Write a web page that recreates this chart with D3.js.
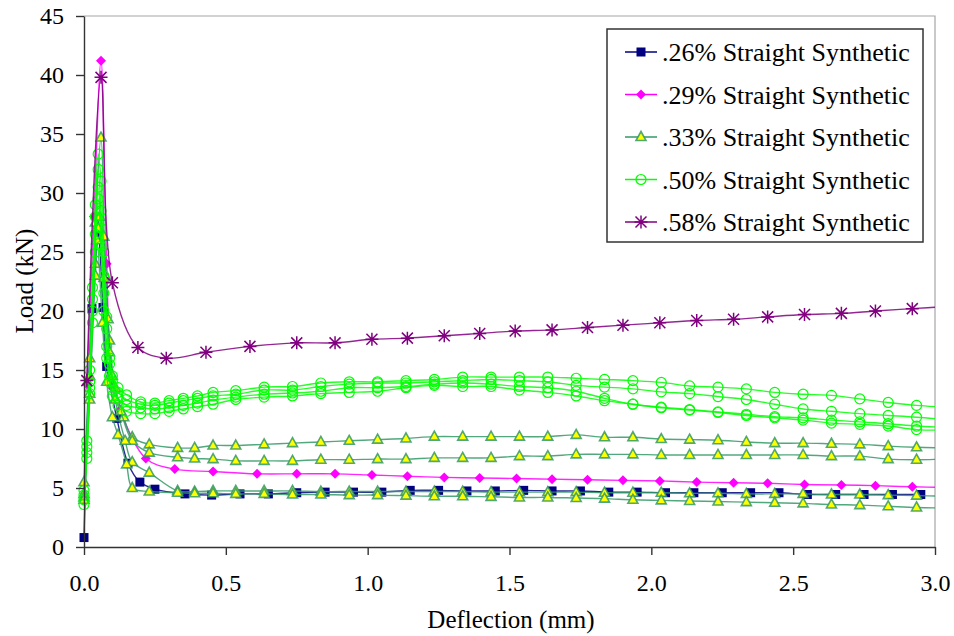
<!DOCTYPE html>
<html>
<head>
<meta charset="utf-8">
<script src="https://cdn.jsdelivr.net/npm/d3@7.9.0/dist/d3.min.js"></script>
<style>
  body { margin: 0; background: #fff; }
  svg { display: block; }
  svg text { font-family: "Liberation Serif", "Times New Roman", Times, "DejaVu Serif", serif !important; }
</style>
</head>
<body>
<svg id="chart" width="954" height="636"></svg>
<script>
// ---- data ----
const legendLabels = ['.26% Straight Synthetic', '.29% Straight Synthetic', '.33% Straight Synthetic',
  '.50% Straight Synthetic', '.58% Straight Synthetic'];
const xTicks = [0, 0.5, 1.0, 1.5, 2.0, 2.5, 3.0];
const yTicks = [0, 5, 10, 15, 20, 25, 30, 35, 40, 45];

// .26%
const x26 = [0, 0.028, 0.05, 0.067, 0.08, 0.116, 0.155, 0.197, 0.25, 0.356, 0.45, 0.55, 0.65, 0.75, 0.85, 0.95,
  1.05, 1.15, 1.25, 1.35, 1.45, 1.55, 1.65, 1.75, 1.85, 1.95, 2.05, 2.15, 2.25, 2.35, 2.45, 2.55, 2.65, 2.75, 2.85, 2.95];
const load26 = [0.8, 20.2, 26.4, 20.3, 15.3, 10.9, 7.1, 5.5, 4.9, 4.5, 4.4, 4.5, 4.5, 4.6, 4.65, 4.65, 4.65, 4.8, 4.8, 4.75,
  4.75, 4.8, 4.75, 4.75, 4.65, 4.65, 4.6, 4.6, 4.6, 4.6, 4.6, 4.45, 4.45, 4.45, 4.45, 4.45];

// .29%
const x29 = [0.01, 0.035, 0.06, 0.08, 0.1, 0.127, 0.218, 0.32, 0.455, 0.61, 0.75, 0.885, 1.015, 1.14, 1.27,
  1.395, 1.525, 1.65, 1.775, 1.9, 2.03, 2.16, 2.29, 2.41, 2.54, 2.67, 2.79, 2.92, 3.05];
const load29 = [13.8, 28, 41.2, 24, 13.5, 11.6, 7.5, 6.6, 6.4, 6.2, 6.2, 6.2, 6.1, 6.0, 5.9, 5.85, 5.8, 5.75, 5.7,
  5.65, 5.6, 5.5, 5.45, 5.4, 5.3, 5.25, 5.2, 5.1, 5.05];

// .58%
const x58 = [0.01, 0.06, 0.1, 0.19, 0.29, 0.43, 0.585, 0.75, 0.885, 1.015, 1.14, 1.27, 1.395, 1.52, 1.65, 1.775, 1.9,
  2.03, 2.16, 2.29, 2.41, 2.54, 2.67, 2.79, 2.92, 3.05];
const load58 = [14.1, 39.8, 22.4, 16.9, 16.0, 16.5, 17.0, 17.3, 17.3, 17.6, 17.7, 17.9, 18.1, 18.3, 18.4, 18.6, 18.8,
  19.0, 19.2, 19.3, 19.5, 19.7, 19.8, 20.0, 20.2, 20.4];

// shared deflections of the later readings (.33% and .50% specimens)
const xTail = [0.455, 0.535, 0.635, 0.735, 0.835, 0.935, 1.035, 1.135, 1.235, 1.335, 1.435, 1.535, 1.635, 1.735,
  1.835, 1.935, 2.035, 2.135, 2.235, 2.335, 2.435, 2.535, 2.635, 2.735, 2.835, 2.935, 3.035];

// .33% — four specimens
const x33a = [0.0, 0.02, 0.04, 0.06, 0.075, 0.09, 0.11, 0.14, 0.17, 0.23, 0.33, 0.39];
const load33a = [5.5, 16, 27.5, 34.7, 23, 17.5, 13.5, 11.0, 9.3, 8.7, 8.4, 8.4];
const tail33a = [8.6, 8.6, 8.7, 8.8, 8.9, 9.0, 9.1, 9.2, 9.35, 9.35, 9.35, 9.35, 9.35, 9.5, 9.3, 9.3, 9.15, 9.1, 9.05,
  8.9, 8.8, 8.8, 8.75, 8.7, 8.55, 8.45, 8.4];
const x33b = [0.0, 0.02, 0.04, 0.055, 0.07, 0.085, 0.1, 0.13, 0.17, 0.23, 0.33, 0.39];
const load33b = [4.5, 14.5, 24, 28.0, 26.3, 19.3, 14.5, 11.5, 9.0, 8.0, 7.6, 7.5];
const tail33b = [7.45, 7.3, 7.3, 7.3, 7.4, 7.4, 7.45, 7.45, 7.55, 7.55, 7.55, 7.7, 7.7, 7.85, 7.85, 7.85, 7.8, 7.8, 7.8,
  7.8, 7.8, 7.8, 7.7, 7.7, 7.45, 7.4, 7.45];
const x33c = [0.0, 0.02, 0.04, 0.05, 0.07, 0.09, 0.11, 0.145, 0.17, 0.23, 0.33, 0.39];
const load33c = [4.2, 13, 23, 27, 22.8, 16.5, 12.5, 9.0, 7.2, 6.3, 4.75, 4.7];
const tail33c = [4.75, 4.75, 4.75, 4.75, 4.7, 4.7, 4.7, 4.7, 4.7, 4.7, 4.65, 4.65, 4.65, 4.65, 4.6, 4.6, 4.6, 4.55,
  4.55, 4.5, 4.5, 4.5, 4.45, 4.45, 4.4, 4.35, 4.3];
const x33d = [0.0, 0.02, 0.045, 0.065, 0.08, 0.1, 0.12, 0.15, 0.17, 0.23, 0.33, 0.39];
const load33d = [4.0, 12.5, 26, 19, 14, 11, 9.5, 7.0, 5.0, 4.7, 4.6, 4.55];
const tail33d = [4.55, 4.5, 4.5, 4.45, 4.45, 4.4, 4.4, 4.35, 4.3, 4.3, 4.25, 4.2, 4.2, 4.15, 4.1, 4.0, 3.95, 3.9, 3.85,
  3.8, 3.75, 3.7, 3.6, 3.55, 3.45, 3.35, 3.3];

// .50% — four specimens
const x50 = [0.0, 0.01, 0.02, 0.03, 0.04, 0.05, 0.06, 0.07, 0.08, 0.09, 0.1, 0.12, 0.15, 0.2, 0.25, 0.3, 0.35, 0.4];
const load50a = [4.8, 9, 15, 22, 29, 33.3, 31, 25, 19.5, 16, 14.5, 13.5, 12.9, 12.3, 12.2, 12.4, 12.6, 12.8];
const tail50a = [13.1, 13.25, 13.55, 13.6, 13.9, 14.0, 14.0, 14.1, 14.2, 14.4, 14.4, 14.4, 14.4, 14.3, 14.2, 14.1,
  13.95, 13.65, 13.55, 13.4, 13.1, 12.95, 12.85, 12.55, 12.25, 12.0, 11.85];
const load50b = [4.4, 8.5, 14, 21, 28, 32.0, 28.5, 23, 18.5, 15.5, 14, 13.1, 12.5, 12.1, 12.0, 12.2, 12.4, 12.6];
const tail50b = [12.8, 12.95, 13.3, 13.3, 13.6, 13.8, 13.9, 13.9, 14.0, 14.1, 14.2, 14.1, 14.0, 13.7, 13.55, 13.4,
  13.15, 13.0, 12.75, 12.5, 12.1, 11.7, 11.5, 11.3, 11.15, 11.0, 10.8];
const load50c = [4.0, 8, 13.5, 20, 26.5, 30.5, 27, 21.5, 17, 14.5, 13.3, 12.6, 12.0, 11.8, 11.7, 11.8, 12.0, 12.2];
const tail50c = [12.45, 12.7, 12.95, 13.05, 13.2, 13.5, 13.5, 13.6, 13.8, 13.9, 13.8, 13.6, 13.5, 13.2, 12.6, 12.1,
  11.85, 11.65, 11.45, 11.25, 11.05, 10.95, 10.75, 10.6, 10.45, 10.25, 10.15];
const load50d = [3.6, 7.5, 13, 19, 25, 29.5, 25.5, 20, 16, 14, 12.8, 12.0, 11.5, 11.3, 11.3, 11.5, 11.7, 11.9];
const tail50d = [12.1, 12.5, 12.7, 12.8, 13.0, 13.1, 13.2, 13.5, 13.7, 13.6, 13.6, 13.3, 13.1, 12.8, 12.4, 12.1,
  11.8, 11.6, 11.4, 11.15, 10.95, 10.75, 10.5, 10.4, 10.25, 9.95, 9.9];

// ---- build specimens ----
const zip = (xs, ys) => xs.map((x, i) => [x, ys[i]]);
const styles = [
  { line: '#000080', marker: 'square', fill: '#000080', stroke: '#000080' },
  { line: '#FF00FF', marker: 'diamond', fill: '#FF00FF', stroke: '#FF00FF' },
  { line: '#339966', marker: 'triangle', fill: '#FFFF00', stroke: '#339966' },
  { line: '#00FF00', marker: 'circle', fill: 'none', stroke: '#00FF00' },
  { line: '#800080', marker: 'star', fill: 'none', stroke: '#800080' }
];
const specimens = [
  { s: 0, pts: zip(x26, load26) },
  { s: 1, pts: zip(x29, load29) },
  { s: 2, pts: zip(x33a, load33a).concat(zip(xTail, tail33a)) },
  { s: 2, pts: zip(x33b, load33b).concat(zip(xTail, tail33b)) },
  { s: 2, pts: zip(x33c, load33c).concat(zip(xTail, tail33c)) },
  { s: 2, pts: zip(x33d, load33d).concat(zip(xTail, tail33d)) },
  { s: 3, pts: zip(x50, load50a).concat(zip(xTail, tail50a)) },
  { s: 3, pts: zip(x50, load50b).concat(zip(xTail, tail50b)) },
  { s: 3, pts: zip(x50, load50c).concat(zip(xTail, tail50c)) },
  { s: 3, pts: zip(x50, load50d).concat(zip(xTail, tail50d)) },
  { s: 4, pts: zip(x58, load58) }
];

// ---- layout ----
const plotL = 84, plotR = 935, plotT = 16, plotB = 547;
const serif = '"Liberation Serif", "Times New Roman", Times, "DejaVu Serif", serif';
const svg = d3.select('#chart');
const x = d3.scaleLinear().domain([0, 3]).range([plotL, plotR]);
const y = d3.scaleLinear().domain([0, 45]).range([plotB, plotT]);

// plot frame (light top/right)
svg.append('path')
  .attr('d', `M${plotL},${plotT}H${plotR}V${plotB}`)
  .attr('fill', 'none').attr('stroke', '#a6a6a6').attr('stroke-width', 1.2);

svg.append('defs').append('clipPath').attr('id', 'clip')
  .append('rect').attr('x', 0).attr('y', 0).attr('width', plotR).attr('height', 636);

// markers
function drawMarker(g, type, cx, cy, st) {
  if (type === 'square') {
    g.append('rect').attr('x', cx - 4.5).attr('y', cy - 4.5).attr('width', 9).attr('height', 9)
      .attr('fill', st.fill);
  } else if (type === 'diamond') {
    g.append('path').attr('d', `M${cx},${cy - 5}L${cx + 5},${cy}L${cx},${cy + 5}L${cx - 5},${cy}Z`)
      .attr('fill', st.fill);
  } else if (type === 'triangle') {
    g.append('path').attr('d', `M${cx},${cy - 5.5}L${cx + 5},${cy + 3.5}L${cx - 5},${cy + 3.5}Z`)
      .attr('fill', st.fill).attr('stroke', st.stroke).attr('stroke-width', 1.6).attr('stroke-opacity', 0.85);
  } else if (type === 'circle') {
    g.append('circle').attr('cx', cx).attr('cy', cy).attr('r', 5)
      .attr('fill', 'none').attr('stroke', st.stroke).attr('stroke-width', 1.2);
  } else if (type === 'star') {
    const r = 5.5;
    g.append('path')
      .attr('d', `M${cx - r},${cy - r}L${cx + r},${cy + r}M${cx - r},${cy + r}L${cx + r},${cy - r}M${cx},${cy - r - 1}V${cy + r + 1}M${cx - r - 1},${cy}H${cx + r + 1}`)
      .attr('fill', 'none').attr('stroke', st.stroke).attr('stroke-width', 1.5);
  }
}

const line = d3.line()
  .x(d => x(d[0])).y(d => y(d[1]))
  .curve(d3.curveCatmullRom.alpha(0.5));

const plot = svg.append('g').attr('clip-path', 'url(#clip)');
specimens.forEach(sp => {
  const st = styles[sp.s];
  const g = plot.append('g');
  g.append('path').attr('d', line(sp.pts))
    .attr('fill', 'none').attr('stroke', st.line).attr('stroke-width', 1.4).attr('stroke-opacity', 0.85);
  sp.pts.forEach(p => drawMarker(g, st.marker, x(p[0]), y(p[1]), st));
});

// axes
const yAxis = d3.axisLeft(y).tickValues(yTicks).tickFormat(d3.format('d'))
  .tickSize(8).tickSizeOuter(0).tickPadding(12);
const xAxis = d3.axisBottom(x).tickValues(xTicks).tickFormat(d3.format('.1f'))
  .tickSize(8).tickSizeOuter(0).tickPadding(19);

const gy = svg.append('g').attr('transform', `translate(${plotL},0)`).call(yAxis);
const gx = svg.append('g').attr('transform', `translate(0,${plotB})`).call(xAxis);
[gx, gy].forEach(g => {
  g.attr('font-family', serif).attr('font-size', 24);
  g.select('.domain').attr('stroke', '#333').attr('stroke-width', 1.4);
  g.selectAll('.tick line').attr('stroke', '#333').attr('stroke-width', 1.4);
  g.selectAll('.tick text').attr('fill', '#000');
});

// axis titles
svg.append('text').attr('x', 511).attr('y', 628).attr('text-anchor', 'middle')
  .attr('font-family', serif).attr('font-size', 25).text('Deflection (mm)');
svg.append('text').attr('transform', 'translate(33,281) rotate(-90)').attr('text-anchor', 'middle')
  .attr('font-family', serif).attr('font-size', 25).text('Load (kN)');

// legend
const lg = svg.append('g');
lg.append('rect').attr('x', 607).attr('y', 29).attr('width', 316).attr('height', 213)
  .attr('fill', '#fff').attr('stroke', '#333').attr('stroke-width', 1.5);
legendLabels.forEach((lab, i) => {
  const cy = 52 + i * 42.5;
  const st = styles[i];
  lg.append('line').attr('x1', 625).attr('x2', 657).attr('y1', cy).attr('y2', cy)
    .attr('stroke', st.line).attr('stroke-width', 1.5);
  drawMarker(lg, st.marker, 641, cy, st);
  lg.append('text').attr('x', 662).attr('y', cy).attr('dy', '0.35em')
    .attr('font-family', serif).attr('font-size', 26).attr('fill', '#000').text(lab);
});
</script>
</body>
</html>
